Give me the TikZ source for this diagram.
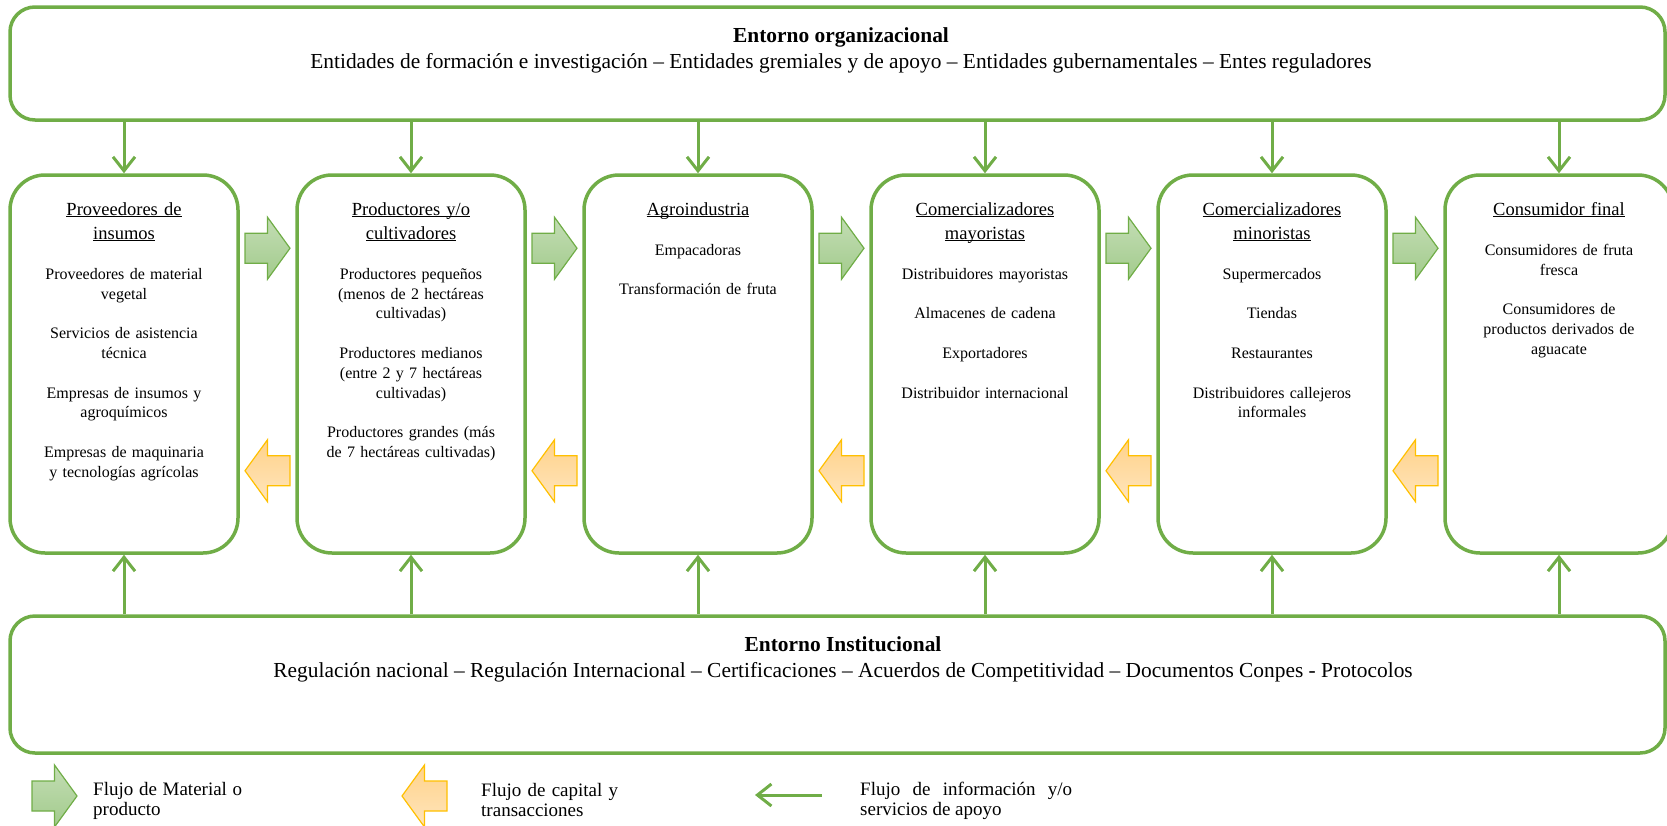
\documentclass[tikz,border=0pt]{standalone}
\usepackage{fontspec}
\setmainfont{Liberation Serif}
\usetikzlibrary{arrows.meta, positioning, calc}

\definecolor{linkgreen}{HTML}{70AD47}
\definecolor{matgreentop}{HTML}{C3DDB4}
\definecolor{matgreenbot}{HTML}{A2CB8C}
\definecolor{capytop}{HTML}{FFD28A}
\definecolor{capybot}{HTML}{FFE5BC}
\definecolor{capyedge}{HTML}{FFC000}

\newcommand{\hdline}[1]{\underline{\smash{#1}}}

\begin{document}
\begin{tikzpicture}[x=1pt, y=-1pt, node distance=55.5pt,
  stagebox/.style={draw=linkgreen, line width=3.5pt, rounded corners=35pt, minimum width=228pt, minimum height=378pt},
  envbox/.style={draw=linkgreen, line width=3.5pt, rounded corners=25pt, minimum width=1655pt},
  colhead/.style={anchor=base, inner sep=0pt, text width=210pt, align=center, font=\fontsize{18.5}{24}\selectfont},
  colbody/.style={anchor=base, inner sep=0pt, text width=210pt, align=center, font=\fontsize{16}{19.8}\selectfont},
  envtext/.style={anchor=base, inner sep=0pt, font=\fontsize{21.4}{26}\selectfont},
  legtext/.style={anchor=base west, inner sep=0pt, align=justify, font=\fontsize{19}{20.5}\selectfont},
  infoflow/.style={draw=linkgreen, line width=3pt, -{Straight Barb[length=14pt, width=22pt]}},
  matflow/.style={draw=linkgreen, line width=1.2pt, top color=matgreentop, bottom color=matgreenbot},
  capflow/.style={draw=capyedge, line width=1.2pt, top color=capytop, bottom color=capybot},
  flowarrow/.pic={\path[#1] (-22.5,-15) -- (0,-15) -- (0,-31) -- (22.5,0) -- (0,31) -- (0,15) -- (-22.5,15) -- cycle;}]
\useasboundingbox (0,0) rectangle (1667,825);

% entornos
\node[envbox, minimum height=113pt] (org) at (837.5,63.5) {};
\node[envbox, minimum height=137pt] (inst) at (837.5,684.5) {};
\node[envtext] (org-t) at (841,42) {\textbf{Entorno organizacional}};
\node[envtext] (org-s) at (841,68.5) {Entidades de formación e investigación – Entidades gremiales y de apoyo – Entidades gubernamentales – Entes reguladores};
\node[envtext] (inst-t) at (843,651) {\textbf{Entorno Institucional}};
\node[envtext] (inst-s) at (843,677) {Regulación nacional – Regulación Internacional – Certificaciones – Acuerdos de Competitividad – Documentos Conpes - Protocolos};

% eslabones
\node[stagebox] (prov) at (124,364) {};
\node[stagebox] (prod) [right=of prov] {};
\node[stagebox] (agro) [right=of prod] {};
\node[stagebox] (cmay) [right=of agro] {};
\node[stagebox] (cmin) [right=of cmay] {};
\node[stagebox] (cons) [right=of cmin] {};

\node[colhead] (prov-h) at ([yshift=-42pt]prov.north) {\hdline{Proveedores de}\\\hdline{insumos}};
\node[colbody] (prov-b) at ([yshift=-106pt]prov.north) {Proveedores de material\\vegetal\\[19.8pt]Servicios de asistencia\\técnica\\[19.8pt]Empresas de insumos y\\agroquímicos\\[19.8pt]Empresas de maquinaria\\y tecnologías agrícolas};
\node[colhead] (prod-h) at ([yshift=-42pt]prod.north) {\hdline{Productores y/o}\\\hdline{cultivadores}};
\node[colbody] (prod-b) at ([yshift=-106pt]prod.north) {Productores pequeños\\(menos de 2 hectáreas\\cultivadas)\\[19.8pt]Productores medianos\\(entre 2 y 7 hectáreas\\cultivadas)\\[19.8pt]Productores grandes (más\\de 7 hectáreas cultivadas)};
\node[colhead] (agro-h) at ([yshift=-42pt]agro.north) {\hdline{Agroindustria}};
\node[colbody] (agro-b) at ([yshift=-82pt]agro.north) {Empacadoras\\[19.8pt]Transformación de fruta};
\node[colhead] (cmay-h) at ([yshift=-42pt]cmay.north) {\hdline{Comercializadores}\\\hdline{mayoristas}};
\node[colbody] (cmay-b) at ([yshift=-106pt]cmay.north) {Distribuidores mayoristas\\[19.8pt]Almacenes de cadena\\[19.8pt]Exportadores\\[19.8pt]Distribuidor internacional};
\node[colhead] (cmin-h) at ([yshift=-42pt]cmin.north) {\hdline{Comercializadores}\\\hdline{minoristas}};
\node[colbody] (cmin-b) at ([yshift=-106pt]cmin.north) {Supermercados\\[19.8pt]Tiendas\\[19.8pt]Restaurantes\\[19.8pt]Distribuidores callejeros\\informales};
\node[colhead] (cons-h) at ([yshift=-42pt]cons.north) {\hdline{Consumidor final}};
\node[colbody] (cons-b) at ([yshift=-82pt]cons.north) {Consumidores de fruta\\fresca\\[19.8pt]Consumidores de\\productos derivados de\\aguacate};

% flujos de informacion
\foreach \s in {prov, prod, agro, cmay, cmin, cons} {
  \draw[infoflow] (\s |- org.south) -- (\s.north);
  \draw[infoflow] (\s |- inst.north) -- (\s.south);
}

% flujos de material y capital
\foreach \a/\b in {prov/prod, prod/agro, agro/cmay, cmay/cmin, cmin/cons} {
  \pic at ($(\a.north east)!.5!(\b.north west)+(0,75)$) {flowarrow=matflow};
  \pic[xscale=-1] at ($(\a.south east)!.5!(\b.south west)+(0,-84)$) {flowarrow=capflow};
}

% leyenda
\pic at (54.5,796) {flowarrow=matflow};
\node[legtext, text width=149pt] (leg-mat) at (93,795) {Flujo de Material o\linebreak producto};
\pic[xscale=-1] at (424.5,796) {flowarrow=capflow};
\node[legtext, text width=137pt] (leg-cap) at (481,796) {Flujo de capital y\linebreak transacciones};
\coordinate (leg-a) at (822,795);
\coordinate (leg-b) at (755,795);
\draw[infoflow] (leg-a) -- (leg-b);
\node[legtext, text width=212pt] (leg-inf) at (860,795) {Flujo de información y/o\linebreak servicios de apoyo};
\end{tikzpicture}
\end{document}
